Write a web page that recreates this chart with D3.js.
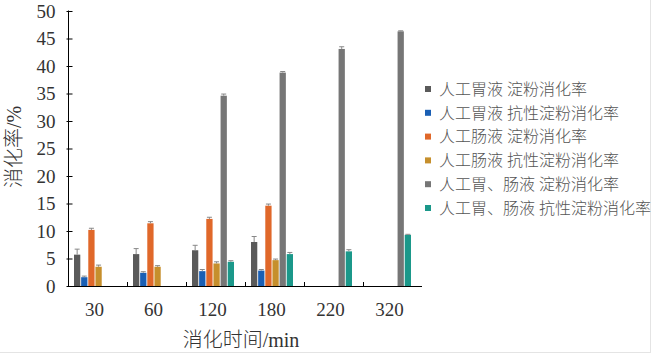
<!DOCTYPE html>
<html><head><meta charset="utf-8">
<script src="https://cdn.jsdelivr.net/npm/d3@7/dist/d3.min.js"></script>
<style>body{margin:0;background:#fff}svg{display:block}</style>
</head><body>
<svg id="c" width="655" height="356"></svg>
<script>
const categories = ["30","60","120","180","220","320"];
const seriesNames = ["人工胃液 淀粉消化率","人工胃液 抗性淀粉消化率","人工肠液 淀粉消化率","人工肠液 抗性淀粉消化率","人工胃、肠液 淀粉消化率","人工胃、肠液 抗性淀粉消化率"];
const seriesColors = ["#5a5a5a","#1a5fb4","#e0682a","#c68f2c","#767676","#1b988a"];
// values per series, aligned with categories (null = no bar)
const s1 = [5.7, 5.8, 6.5, 8.0, null, null];
const s2 = [1.6, 2.4, 2.7, 2.8, null, null];
const s3 = [10.2, 11.4, 12.2, 14.6, null, null];
const s4 = [3.5, 3.5, 4.1, 4.7, null, null];
const s5 = [null, null, 34.6, 38.8, 43.1, 46.3];
const s6 = [null, null, 4.4, 5.8, 6.3, 9.3];
const e1 = [1.0, 1.0, 0.9, 1.0, null, null];
const e2 = [0.2, 0.2, 0.3, 0.2, null, null];
const e3 = [0.3, 0.3, 0.3, 0.3, null, null];
const e4 = [0.3, 0.2, 0.3, 0.2, null, null];
const e5 = [null, null, 0.3, 0.2, 0.4, 0.1];
const e6 = [null, null, 0.2, 0.3, 0.3, 0.1];
const yTicks = [0,5,10,15,20,25,30,35,40,45,50];
const values = [s1,s2,s3,s4,s5,s6];
const errors = [e1,e2,e3,e4,e5,e6];

const svg = d3.select("#c");
const font = "'Liberation Serif','Noto Sans CJK SC',serif";
const x = d3.scaleBand().domain(categories).range([68, 422]).padding(0);
const xs = d3.scaleBand().domain(d3.range(6)).range([6, 48]).paddingInner(0.12).paddingOuter(0);
const y = d3.scaleLinear().domain([0, 50]).range([286, 11]);

// frame lines
svg.append("line").attr("x1",650.5).attr("x2",650.5).attr("y1",0).attr("y2",352).attr("stroke","#e4e4e4");
svg.append("line").attr("x1",0).attr("x2",651).attr("y1",352.5).attr("y2",352.5).attr("stroke","#e4e4e4");

// bars
values.forEach((vals, si) => {
  const g = svg.append("g");
  categories.forEach((c, ci) => {
    const v = vals[ci];
    if (v == null) return;
    const bx = x(c) + xs(si), bw = xs.bandwidth();
    g.append("rect").attr("x", bx).attr("y", y(v)).attr("width", bw).attr("height", y(0) - y(v))
      .attr("fill", seriesColors[si]);
    const e = errors[si][ci];
    if (e != null) {
      const cx = bx + bw / 2;
      g.append("line").attr("x1", cx).attr("x2", cx).attr("y1", y(v)).attr("y2", y(v + e)).attr("stroke", "#888").attr("stroke-width", 1);
      g.append("line").attr("x1", cx - 2.5).attr("x2", cx + 2.5).attr("y1", y(v + e)).attr("y2", y(v + e)).attr("stroke", "#888").attr("stroke-width", 1);
    }
  });
});

// y axis
const yAxis = d3.axisRight(y).tickValues(yTicks).tickSize(4).tickFormat(d3.format("d"));
const ya = svg.append("g").attr("transform", "translate(68.5,0)").call(yAxis);
ya.select(".domain").attr("stroke", "#000").attr("d", "M0,10.5V286.5");
ya.selectAll(".tick line").attr("stroke", "#000").attr("x1", -2).attr("x2", 4);
ya.selectAll(".tick text").attr("x", -13).attr("text-anchor", "end").attr("dy", "0.34em")
  .attr("font-family", font).attr("font-size", 19).attr("fill", "#333");

// x axis
const xAxis = d3.axisBottom(x).tickSize(0);
const xa = svg.append("g").attr("transform", "translate(0,286.5)").call(xAxis);
xa.select(".domain").attr("stroke", "#000").attr("d", "M68,0H422");
xa.selectAll(".tick text").attr("dx", -3).attr("y", 29).attr("dy", 0)
  .attr("font-family", font).attr("font-size", 19).attr("fill", "#333");
// boundary ticks (upwards)
categories.forEach((c, i) => {
  if (i === 0) return;
  const tx = Math.round(x(c)) + 0.5;
  svg.append("line").attr("x1", tx).attr("x2", tx).attr("y1", 286).attr("y2", 282).attr("stroke", "#000");
});

// axis titles
svg.append("text").attr("x", 241).attr("y", 347).attr("text-anchor", "middle")
  .attr("font-family", font).attr("font-size", 20).attr("font-weight", 300).attr("fill", "#333").text("消化时间/min");
svg.append("text").attr("transform", "translate(21,147) rotate(-90)").attr("text-anchor", "middle")
  .attr("font-family", font).attr("font-size", 20).attr("font-weight", 300).attr("fill", "#333").text("消化率/%");

// legend
const lg = svg.append("g");
seriesNames.forEach((n, i) => {
  const ly = 89 + i * 23.8;
  lg.append("rect").attr("x", 425).attr("y", ly - 3).attr("width", 6).attr("height", 6).attr("fill", seriesColors[i]);
  lg.append("text").attr("x", 439).attr("y", ly).attr("dy", "0.36em")
    .attr("font-family", font).attr("font-size", 16).attr("font-weight", 300).attr("fill", "#555").text(n);
});
</script>
</body></html>
